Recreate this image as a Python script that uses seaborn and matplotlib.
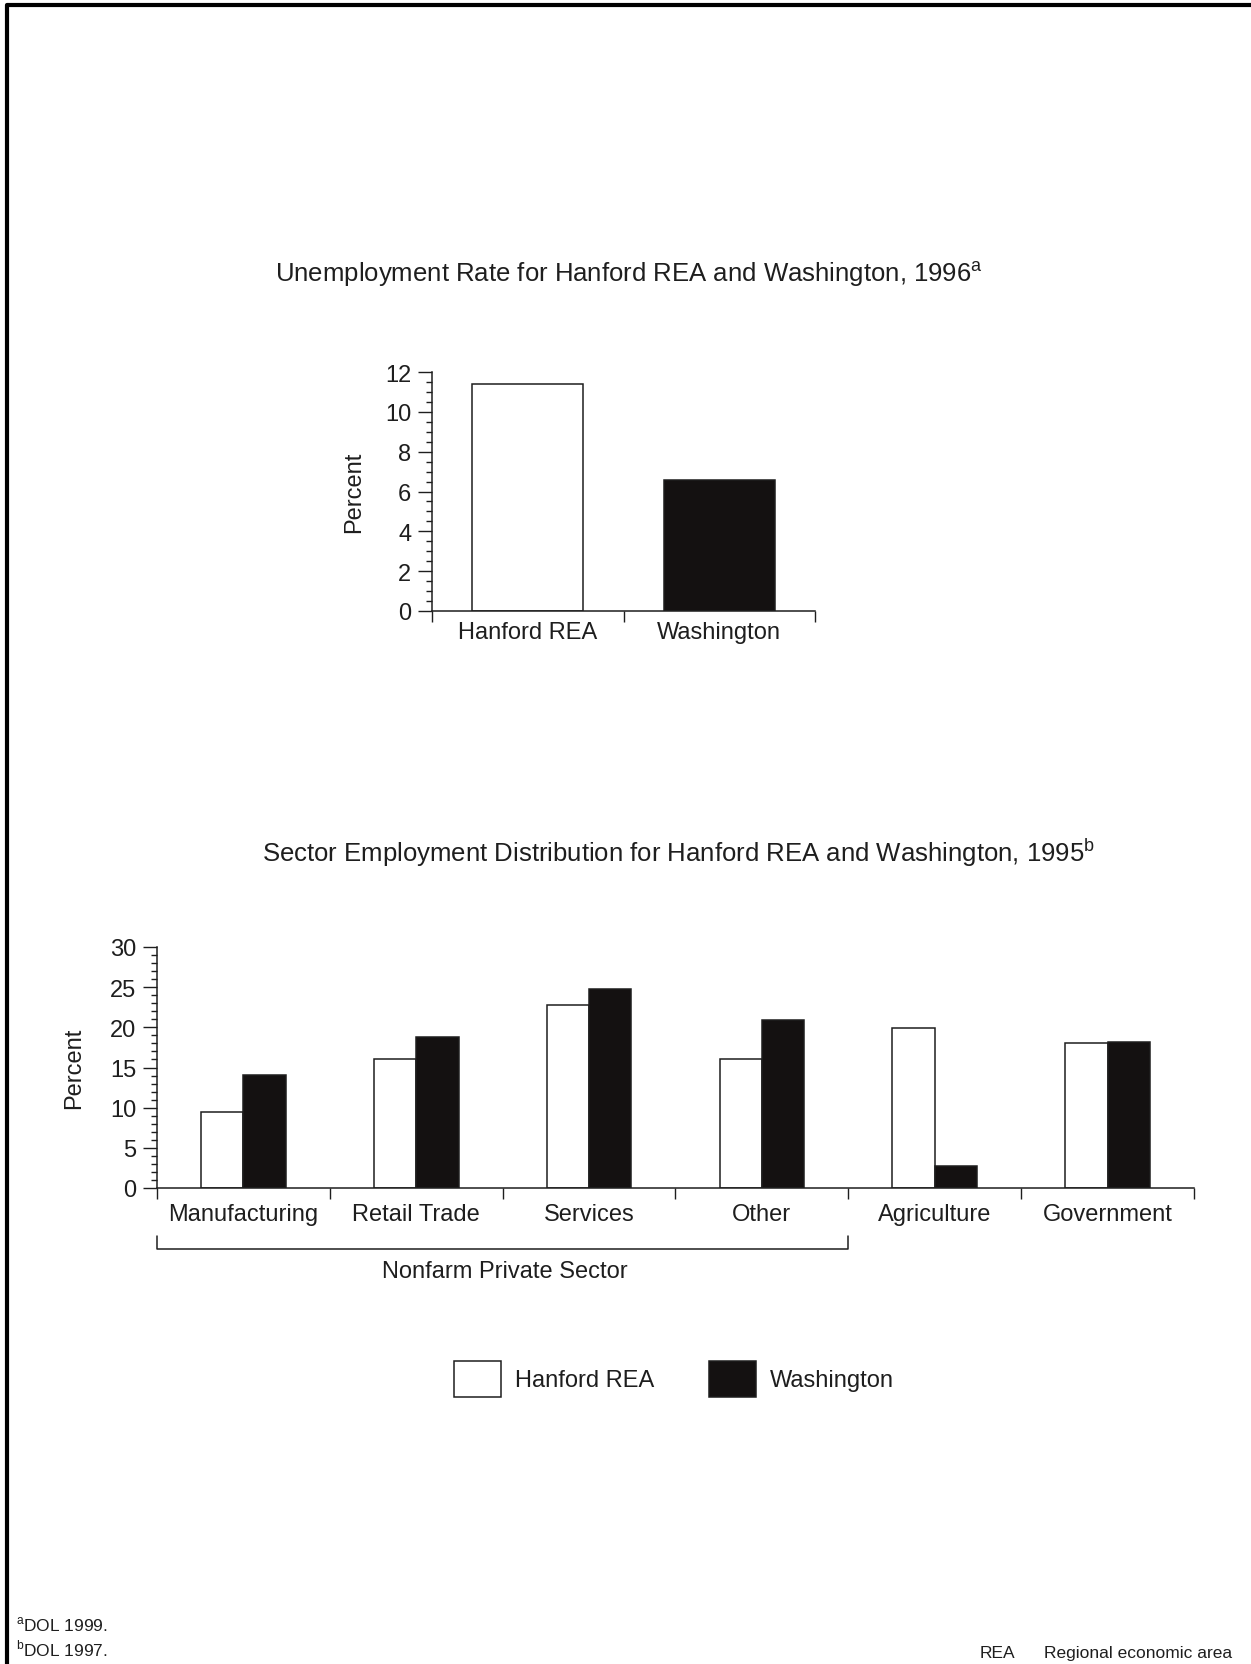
import matplotlib
matplotlib.use('Agg')
import matplotlib.pyplot as plt
import matplotlib.transforms as mtrans
from matplotlib.lines import Line2D
from matplotlib.ticker import MultipleLocator, FixedLocator
import seaborn as sns
import pandas as pd

# ---- data
places = ['Hanford REA', 'Washington']
unemp_rate = [11.4, 6.6]

sectors = ['Manufacturing', 'Retail Trade', 'Services', 'Other', 'Agriculture', 'Government']
hanford_pct = [9.4, 16.0, 22.8, 16.0, 19.9, 18.0]
washington_pct = [14.1, 18.8, 24.8, 20.9, 2.7, 18.2]

colors = {'Hanford REA': 'white', 'Washington': '#141111'}
ink = '#1e1e1e'

df_top = pd.DataFrame({'place': places, 'rate': unemp_rate})
df_sec = pd.DataFrame({
    'sector': sectors * 2,
    'pct': hanford_pct + washington_pct,
    'place': ['Hanford REA'] * len(sectors) + ['Washington'] * len(sectors),
})

sns.set_style('ticks')
plt.rcParams['font.family'] = ['Liberation Sans', 'DejaVu Sans']
plt.rcParams['text.color'] = ink
plt.rcParams['axes.labelcolor'] = ink
plt.rcParams['xtick.color'] = ink
plt.rcParams['ytick.color'] = ink
plt.rcParams['axes.edgecolor'] = ink

W, H = 1251, 1665
fig = plt.figure(figsize=(W / 100, H / 100), dpi=100)
fig.patch.set_facecolor('white')


def px_axes(x0, x1, y_top, y_bot):
    return fig.add_axes([x0 / W, 1 - y_bot / H, (x1 - x0) / W, (y_bot - y_top) / H])


def style_axes(ax, n, ymax, ymajor, yminor, xpad, ylabelpad):
    ax.set_facecolor('white')
    sns.despine(ax=ax, top=True, right=True)
    ax.set_xlim(-0.5, n - 0.5)
    ax.set_ylim(0, ymax)
    ax.yaxis.set_major_locator(MultipleLocator(ymajor))
    ax.yaxis.set_minor_locator(MultipleLocator(yminor))
    ax.xaxis.set_minor_locator(FixedLocator([i - 0.5 for i in range(n + 1)]))
    ax.tick_params(axis='y', which='major', length=10, width=1, labelsize=17, pad=5)
    ax.tick_params(axis='y', which='minor', length=4, width=1)
    ax.tick_params(axis='x', which='major', length=0, labelsize=17, pad=xpad)
    ax.tick_params(axis='x', which='minor', length=8, width=1)
    for s in ('left', 'bottom'):
        ax.spines[s].set_linewidth(1.1)
    ax.set_xlabel('')
    ax.set_ylabel('Percent', fontsize=17, labelpad=ylabelpad)


# ---- top chart: unemployment rate
ax1 = px_axes(432, 815, 373, 612)
sns.barplot(data=df_top, x='place', y='rate', hue='place', palette=colors,
            width=0.58, edgecolor=ink, linewidth=1.1, legend=False, ax=ax1)
style_axes(ax1, len(places), 12, 2, 0.5, 7, 14)

fig.text(629 / W, 1 - 274 / H,
         r'Unemployment Rate for Hanford REA and Washington, 1996$^{\mathregular{a}}$',
         ha='center', va='center', fontsize=18.5)

# ---- bottom chart: sector employment
ax2 = px_axes(157, 1194, 948, 1189)
sns.barplot(data=df_sec, x='sector', y='pct', hue='place', palette=colors,
            width=0.49, edgecolor=ink, linewidth=1.1, ax=ax2)
style_axes(ax2, len(sectors), 30, 5, 1, 11, 18)

fig.text(679 / W, 1 - 853 / H,
         r'Sector Employment Distribution for Hanford REA and Washington, 1995$^{\mathregular{b}}$',
         ha='center', va='center', fontsize=18.5)

# bracket under the private-sector groups
tr = mtrans.blended_transform_factory(ax2.transData, fig.transFigure)
yb, yt = 1 - 1250 / H, 1 - 1237 / H
ax2.add_line(Line2D([-0.5, -0.5, 3.5, 3.5], [yt, yb, yb, yt], transform=tr,
                    color=ink, lw=1.1, clip_on=False))
fig.text(505 / W, 1 - 1272 / H, 'Nonfarm Private Sector', ha='center', va='center', fontsize=17)

sns.move_legend(ax2, loc='center', bbox_to_anchor=(674 / W, 1 - 1380 / H),
                bbox_transform=fig.transFigure, ncol=2, title=None, frameon=False,
                fontsize=17, handlelength=2.0, handleheight=2.0,
                handletextpad=0.6, columnspacing=2.3)
for h in ax2.get_legend().legend_handles:
    h.set_edgecolor(ink)
    h.set_linewidth(1.1)

# ---- footnotes
fig.text(16 / W, 1 - 1625 / H, r'$^{\mathregular{a}}$DOL 1999.', ha='left', va='center', fontsize=12.5)
fig.text(16 / W, 1 - 1649 / H, r'$^{\mathregular{b}}$DOL 1997.', ha='left', va='center', fontsize=12.5)
fig.text(980 / W, 1 - 1654 / H, 'REA', ha='left', va='center', fontsize=12.5)
fig.text(1044 / W, 1 - 1654 / H, 'Regional economic area', ha='left', va='center', fontsize=12.5)

# ---- page frame (left and top edges)
fig.add_artist(Line2D([7 / W, 7 / W, 1.0], [0.0, 1 - 6 / H, 1 - 6 / H],
                      transform=fig.transFigure, color='black', lw=3))

fig.savefig('out.png', dpi=100, facecolor='white')
